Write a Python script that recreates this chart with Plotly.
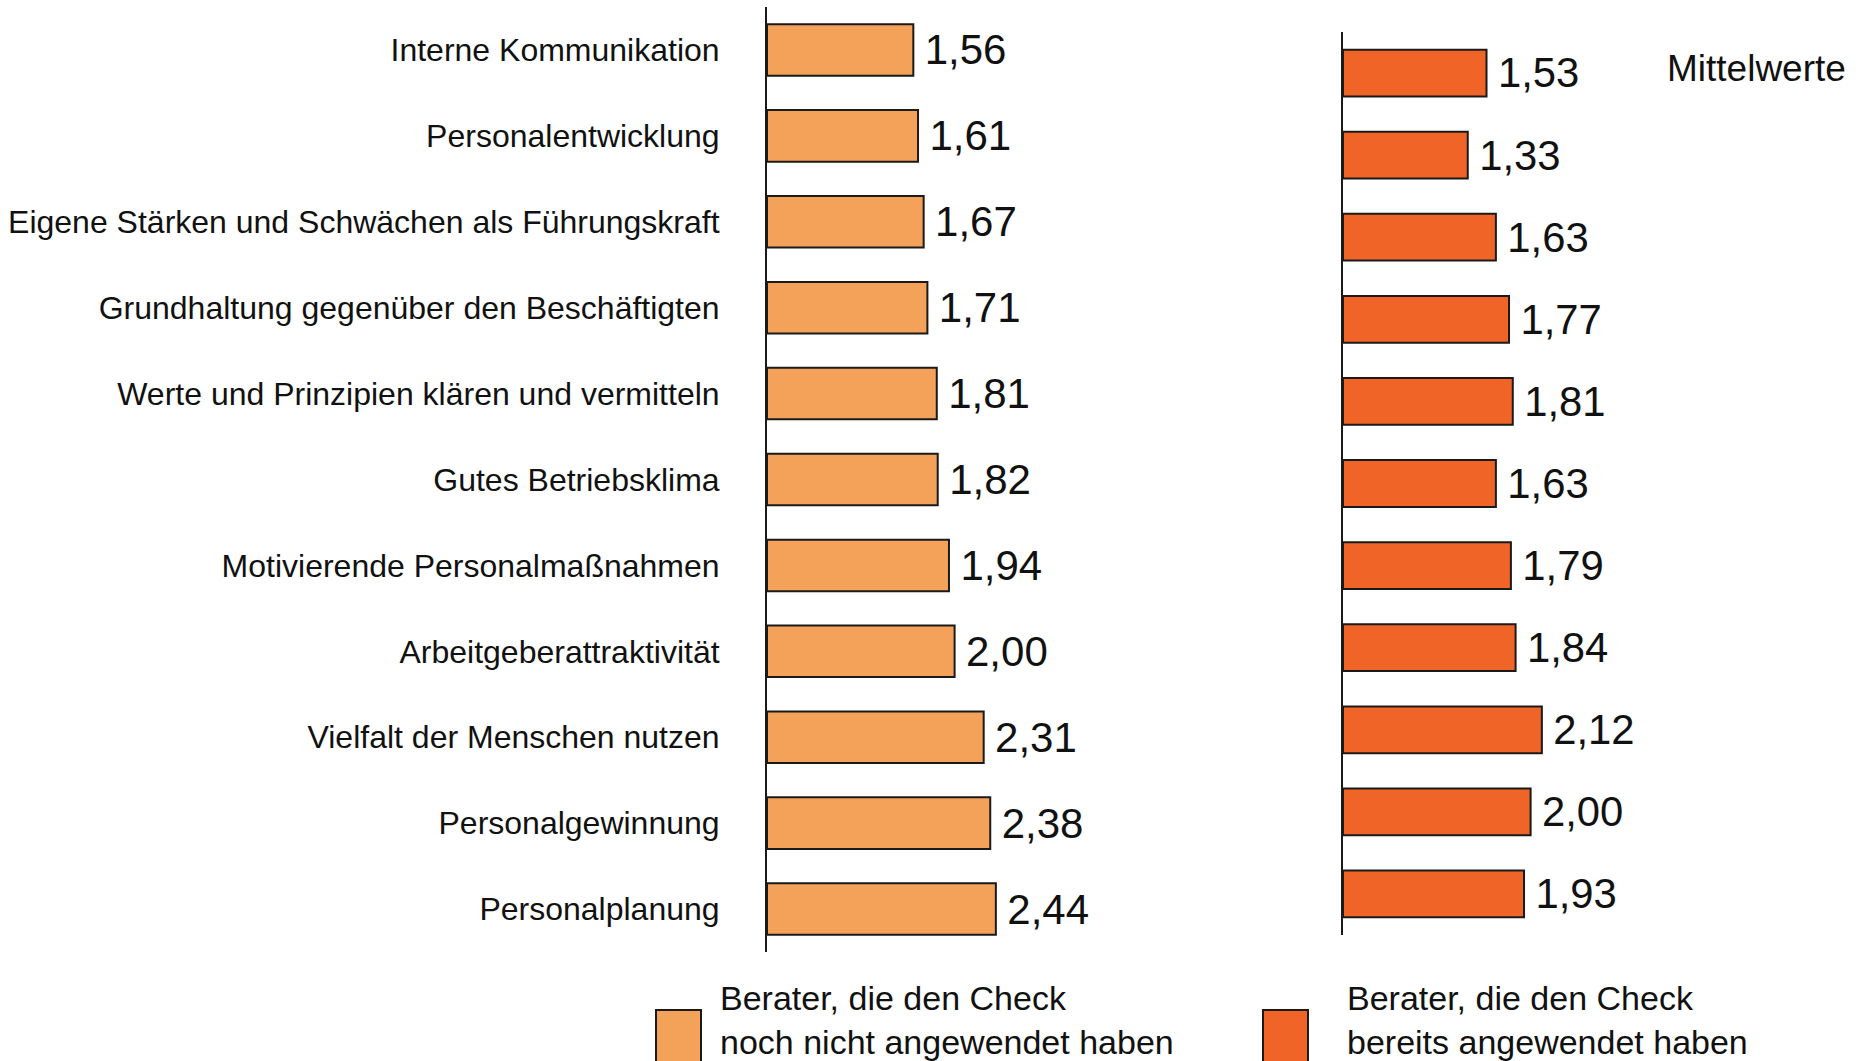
import plotly.graph_objects as go
from plotly.subplots import make_subplots

categories = [
    'Interne Kommunikation',
    'Personalentwicklung',
    'Eigene Stärken und Schwächen als Führungskraft',
    'Grundhaltung gegenüber den Beschäftigten',
    'Werte und Prinzipien klären und vermitteln',
    'Gutes Betriebsklima',
    'Motivierende Personalmaßnahmen',
    'Arbeitgeberattraktivität',
    'Vielfalt der Menschen nutzen',
    'Personalgewinnung',
    'Personalplanung',
]
noch_nicht = [1.56, 1.61, 1.67, 1.71, 1.81, 1.82, 1.94, 2.00, 2.31, 2.38, 2.44]
bereits = [1.53, 1.33, 1.63, 1.77, 1.81, 1.63, 1.79, 1.84, 2.12, 2.00, 1.93]

legend_labels = ['Berater, die den Check<br>noch nicht angewendet haben',
                 'Berater, die den Check<br>bereits angewendet haben']
colors = ['#F4A259', '#F06428']

W, H = 1863, 1061
PX = 93.8  # pixels per unit

FONT = 'Liberation Sans, Arial, sans-serif'

fig = make_subplots(rows=1, cols=2)

fig.add_trace(go.Bar(
    y=categories, x=noch_nicht, orientation='h', width=0.6,
    marker=dict(color=colors[0], line=dict(color='#1a1a1a', width=2)),
    text=noch_nicht, texttemplate='\u2009%{x:.2f}', textposition='outside',
    textfont=dict(size=42, color='#111111', family=FONT),
    cliponaxis=False, showlegend=False, hoverinfo='skip'), row=1, col=1)

fig.add_trace(go.Bar(
    y=categories, x=bereits, orientation='h', width=0.57,
    marker=dict(color=colors[1], line=dict(color='#1a1a1a', width=2)),
    text=bereits, texttemplate='\u2009%{x:.2f}', textposition='outside',
    textfont=dict(size=42, color='#111111', family=FONT),
    cliponaxis=False, showlegend=False, hoverinfo='skip'), row=1, col=2)

lx0, lx1 = 767, 1150
rx0, rx1 = 1343, 1863
fig.update_layout(
    xaxis=dict(domain=[lx0 / W, lx1 / W], range=[0, (lx1 - lx0) / PX], visible=False),
    xaxis2=dict(domain=[rx0 / W, rx1 / W], range=[0, (rx1 - rx0) / PX], visible=False),
    yaxis=dict(domain=[1 - 952 / H, 1 - 7 / H], autorange='reversed',
               showline=True, linecolor='#1a1a1a', linewidth=2, ticks='',
               ticklabelstandoff=39, showgrid=False,
               tickfont=dict(size=32, color='#111111', family=FONT)),
    yaxis2=dict(domain=[1 - 935 / H, 1 - 32 / H], autorange='reversed',
                showline=True, linecolor='#1a1a1a', linewidth=2, ticks='',
                showticklabels=False, showgrid=False),
)

# legend drawn by hand
for i, (lab, col) in enumerate(zip(legend_labels, colors)):
    sx = [656, 1263][i]
    tx = [718, 1345][i]
    fig.add_shape(type='rect', xref='paper', yref='paper',
                  x0=sx / W, x1=(sx + 45) / W, y0=-0.02, y1=1 - 1010 / H,
                  fillcolor=col, line=dict(color='#1a1a1a', width=2))
    fig.add_annotation(text=lab, xref='paper', yref='paper',
                       x=tx / W, y=1 - 977 / H, xanchor='left', yanchor='top',
                       align='left', showarrow=False,
                       font=dict(size=34, color='#111111', family=FONT))

fig.add_annotation(text='Mittelwerte', xref='paper', yref='paper',
                   x=1665 / W, y=1 - 68 / H, xanchor='left', yanchor='middle',
                   showarrow=False, font=dict(size=37, color='#111111', family=FONT))

fig.update_layout(
    width=W, height=H,
    margin=dict(l=0, r=0, t=0, b=0),
    plot_bgcolor='white', paper_bgcolor='white',
    separators=',.',
    font=dict(family=FONT),
)

fig.write_html('out.html', config={'displayModeBar': False},
               post_script="document.body.style.margin='0';document.body.style.overflow='hidden';")
